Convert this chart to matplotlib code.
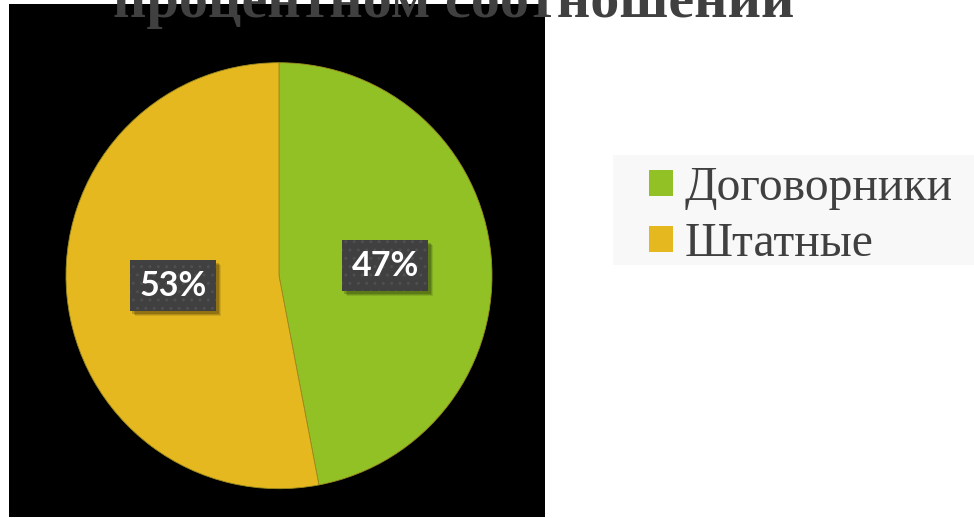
import matplotlib
matplotlib.use("Agg")
import matplotlib.pyplot as plt
from matplotlib.patches import Rectangle, Patch

# ---- data ----
title_text = "процентном соотношении"
categories = ["Договорники", "Штатные"]
values = [47, 53]
colors = ["#92C125", "#E6B81F"]

W, H = 974, 518
fig = plt.figure(figsize=(W / 100, H / 100), dpi=100)
fig.patch.set_facecolor("white")

def fx(px):
    return px / W

def fy(py):
    return 1 - py / H

# black chart area
fig.patches.append(Rectangle((fx(9), fy(517)), fx(545) - fx(9), fy(4) - fy(517),
                             transform=fig.transFigure, facecolor="black",
                             edgecolor="none", zorder=-5))

# pie axes
cx, cy, r = 279, 275.7, 213
ax = fig.add_axes([fx(cx - r), fy(cy + r), 2 * r / W, 2 * r / H])
ax.set_zorder(2)
ax.set_facecolor("none")
wedges, texts, autotexts = ax.pie(
    values, colors=colors, startangle=90, counterclock=False,
    autopct=lambda p: f"{p:.0f}%", pctdistance=0.5,
    wedgeprops=dict(linewidth=0.6, edgecolor="#9a8a20"),
    textprops=dict(color="white", fontsize=24.5, fontweight="bold", family="Lato"))
ax.set_xlim(-1, 1)
ax.set_ylim(-1, 1)
ax.set_aspect("auto")
ax.axis("off")

for t in autotexts:
    x, y = t.get_position()
    # soft shadow boxes
    for k, (off, a) in enumerate([(0.012, 0.18), (0.018, 0.14), (0.024, 0.10)]):
        ax.text(x + off, y - off, t.get_text(), ha="center", va="center",
                fontsize=24.5, fontweight="bold", family="Lato", color="none",
                bbox=dict(boxstyle="square,pad=0.28", facecolor="black",
                          edgecolor="none", alpha=a), zorder=3)
    t.set_ha("center")
    t.set_va("center")
    t.set_zorder(5)
    t.set_bbox(dict(boxstyle="square,pad=0.28", facecolor="#404040",
                    edgecolor="#4f4f4f", linewidth=0, hatch=".."))

# title (cut at top)
title = fig.text(fx(454), fy(17), title_text, ha="center", va="baseline",
                 fontsize=40, fontweight="bold", family="Liberation Serif",
                 color="#404040", zorder=10)
fig.canvas.draw()
bb = title.get_window_extent()
title.set_fontsize(40 * 682 / bb.width)

# legend background
fig.patches.append(Rectangle((fx(613), fy(265)), fx(974) - fx(613), fy(155) - fy(265),
                             transform=fig.transFigure, facecolor="#F8F8F8",
                             edgecolor="none", zorder=1))
handles = [Patch(facecolor=c, edgecolor="none") for c in colors]
fs = 34.3
leg = fig.legend(handles, categories, loc="upper left",
                 bbox_to_anchor=(fx(649), fy(166)), frameon=False,
                 prop=dict(family="Liberation Serif", size=fs),
                 handlelength=0.5, handleheight=0.48, handletextpad=0.25,
                 labelspacing=0.25, borderpad=0, borderaxespad=0)
leg.set_zorder(6)
for t in leg.get_texts():
    t.set_color("#404040")

fig.savefig("out.png", dpi=100, facecolor="white")
